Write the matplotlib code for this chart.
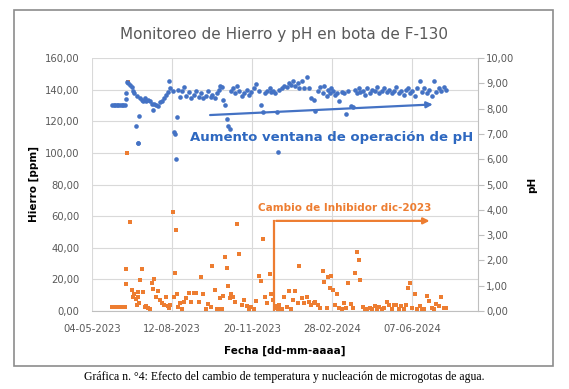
import matplotlib
matplotlib.use("Agg")
import matplotlib.pyplot as plt
import matplotlib.dates as mdates
from matplotlib.ticker import FuncFormatter, MultipleLocator
from matplotlib.patches import Rectangle
import pandas as pd

# sample days counted from 04-05-2023
start_date = "2023-05-04"
sample_days = [25, 27, 29, 31, 33, 35, 37, 39, 41, 42, 43, 44, 45, 47,
               50, 51, 53, 55, 56, 57, 58, 59, 60, 62, 64, 66, 68, 70, 72, 75,
               76, 78, 80, 82, 85, 87, 90, 92, 95, 96, 98, 101, 103, 104, 105,
               106, 108, 110, 113, 115, 118, 121, 124, 127, 130, 133, 136, 139,
               142, 145, 148, 150, 153, 156, 158, 160, 162, 164, 166, 168, 170,
               172, 174, 176, 178, 181, 184, 187, 190, 193, 196, 199, 202, 205,
               208, 211, 213, 216, 219, 222, 224, 226, 228, 231, 232, 234, 237,
               240, 243, 246, 248, 251, 254, 257, 259, 262, 265, 268, 271, 274,
               277, 279, 282, 285, 288, 290, 293, 295, 297, 299, 301, 304, 306,
               309, 312, 315, 317, 320, 323, 326, 329, 331, 333, 335, 338, 341,
               344, 347, 350, 353, 356, 359, 362, 365, 368, 371, 374, 377, 380,
               383, 386, 389, 392, 395, 397, 400, 403, 406, 409, 412, 415, 418,
               421, 424, 427, 430, 433, 436, 439, 442]

ph_values = [8.13, 8.13, 8.13, 8.13, 8.13, 8.13, 8.13, 8.13, 8.13, 8.37, 8.6, 9.05, 9.0, 8.95,
             8.85, 8.7, 8.6, 7.3, 8.5, 6.63, 6.63, 7.7, 8.4, 8.35, 8.3, 8.4, 8.3, 8.35, 8.3, 8.2,
             7.94, 8.2, 8.15, 8.1, 8.25, 8.3, 8.4, 8.55, 8.65, 9.09, 8.8, 8.7, 7.06, 7.0, 6.0,
             7.66, 8.75, 8.45, 8.7, 8.85, 8.5, 8.65, 8.4, 8.55, 8.7, 8.45, 8.6, 8.4,
             8.5, 8.7, 8.45, 8.55, 8.4, 8.6, 8.75, 8.9, 8.85, 8.33, 8.13, 7.6, 7.3,
             7.2, 8.7, 8.8, 8.6, 8.9, 8.7, 8.5, 8.6, 8.75, 8.55, 8.65, 8.8, 8.97,
             8.7, 8.13, 7.86, 8.6, 8.7, 8.8, 8.65, 8.7, 8.6, 7.86, 6.3, 8.75, 8.8,
             8.9, 8.85, 9.0, 8.95, 9.1, 8.9, 9.0, 8.8, 9.1, 8.8, 9.25, 8.8, 8.4,
             8.35, 7.9, 8.7, 8.85, 8.6, 8.9, 8.5, 8.75, 8.6, 8.8, 8.7, 8.55, 8.6,
             8.3, 8.65, 8.6, 7.8, 8.7, 8.1, 8.05, 8.75, 8.6, 8.8, 8.65, 8.7, 8.55,
             8.8, 8.6, 8.75, 8.7, 8.85, 8.6, 8.7, 8.8, 8.65, 8.75, 8.6, 8.7, 8.85,
             8.6, 8.7, 8.55, 8.75, 8.8, 8.6, 8.7, 8.5, 8.8, 9.1, 8.65, 8.8, 8.6,
             8.75, 8.5, 9.1, 8.65, 8.8, 8.7, 8.85, 8.75]

hierro_values = [2.4, 2.4, 2.4, 2.4, 2.4, 2.4, 2.4, 2.4, 2.4, 17, 26.7, 100, 145, 56.5,
                 13, 9, 11, 7.6, 3.8, 9, 12, 5, 19.7, 26.7, 12, 2.5, 3, 2, 1.3, 17.8,
                 14, 20.3, 9, 12.7, 7, 5, 3.8, 9, 3, 2, 4, 62.8, 9, 24, 51.4,
                 11, 2.5, 5, 1.5, 6, 8, 11.4, 5.7, 11.4, 11.4, 5.7, 21.6, 11,
                 1, 4.4, 2.5, 28.6, 13.3, 1, 1, 8, 1, 9.3, 34, 27, 16,
                 8, 11, 9, 5.7, 55, 36, 3.8, 7, 3, 1.5, 2.5, 1.5, 6.3,
                 22, 19, 45.7, 8.9, 5, 23.5, 10.8, 7, 3, 2, 1.5, 4, 1.5,
                 9, 2.5, 12.7, 1, 7, 12.7, 5, 28.6, 8, 5, 9, 6, 4,
                 5, 6, 4, 2, 25, 18.6, 2, 21.6, 14.6, 22.2, 13.3, 3.8, 10.8,
                 2, 1.5, 5, 2, 17.8, 4.4, 2, 24, 37.4, 32.4, 19.7, 2.5, 1.5,
                 1, 2, 1, 3, 1.5, 2.5, 1, 2, 5.7, 3.8, 1.5, 3.5, 4,
                 1, 3, 1.5, 3.5, 14.6, 17.8, 2, 10.8, 1.5, 3, 1, 1.5, 9.5,
                 6.3, 2, 1, 4.4, 3.2, 8.9, 2, 2]

x_tick_days = [0, 100, 200, 300, 400]
x_end_day = 482

t0 = pd.Timestamp(start_date)
dates = [t0 + pd.Timedelta(days=d) for d in sample_days]

blue = "#4472C4"
orange = "#ED7D31"
grey = "#595959"
grid_c = "#d9d9d9"

fig = plt.figure(figsize=(5.69, 3.89), dpi=100)
ax = fig.add_axes([92 / 569, 78 / 389, 386 / 569, 253 / 389])
ax2 = ax.twinx()

# frame of the excel chart
fig.patches.append(Rectangle((14 / 569, 23 / 389), 539 / 569, 356 / 389,
                             transform=fig.transFigure, fill=False,
                             edgecolor="#8c8c8c", lw=1.2))

ax.scatter(dates, hierro_values, marker="s", s=11, color=orange, lw=0, zorder=3)
ax2.scatter(dates, ph_values, marker="o", s=11, color=blue, lw=0, zorder=3)

ax.set_xlim(t0, t0 + pd.Timedelta(days=x_end_day))
ax.set_xticks([t0 + pd.Timedelta(days=d) for d in x_tick_days])
ax.xaxis.set_major_formatter(mdates.DateFormatter("%d-%m-%Y"))
ax.set_ylim(0, 160)
ax.yaxis.set_major_locator(MultipleLocator(20))
ax2.set_ylim(0, 10)
ax2.yaxis.set_major_locator(MultipleLocator(1))

comma = FuncFormatter(lambda v, p: f"{v:.2f}".replace(".", ","))
ax.yaxis.set_major_formatter(comma)
ax2.yaxis.set_major_formatter(comma)

ax.grid(True, color=grid_c, lw=0.8)
ax.set_axisbelow(True)
for s in ["top", "left", "right"]:
    ax.spines[s].set_visible(False)
for s in ["top", "left"]:
    ax2.spines[s].set_visible(False)
ax.spines["bottom"].set_color("#bfbfbf")
ax2.spines["bottom"].set_visible(False)
ax2.spines["right"].set_color("#bfbfbf")

ax.tick_params(axis="y", length=0, pad=9, labelsize=7.2, labelcolor=grey)
ax.tick_params(axis="x", length=0, pad=9, labelsize=7.2, labelcolor=grey)
ax2.tick_params(axis="y", length=4, width=0.8, color="#bfbfbf", pad=2,
                labelsize=7.2, labelcolor=grey)

ax.set_ylabel("Hierro [ppm]", fontsize=7.5, fontweight="bold", labelpad=4)
ax.set_xlabel("Fecha [dd-mm-aaaa]", fontsize=7.5, fontweight="bold", labelpad=9)
ax2.set_ylabel("pH", fontsize=7.5, fontweight="bold", labelpad=9)

fig.text(284 / 569, 1 - 35 / 389, "Monitoreo de Hierro y pH en bota de F-130",
         ha="center", va="center", fontsize=11, color=grey)

# pH annotation
ax2.annotate("", xy=(t0 + pd.Timedelta(days=429), 8.17),
             xytext=(t0 + pd.Timedelta(days=144), 7.74),
             arrowprops=dict(arrowstyle="-|>", color=blue, lw=1.6, mutation_scale=9))
ax.text(t0 + pd.Timedelta(days=122), 110, "Aumento ventana de operación de pH",
        color="#2E68C0", fontsize=9.5, fontweight="bold", va="center", ha="left")

# inhibitor change annotation
ax.plot([t0 + pd.Timedelta(days=227.5)] * 2, [0, 57], color=orange, lw=1.6)
ax.annotate("", xy=(t0 + pd.Timedelta(days=425), 57),
            xytext=(t0 + pd.Timedelta(days=226.5), 57),
            arrowprops=dict(arrowstyle="-|>", color=orange, lw=1.6, mutation_scale=9))
ax.text(t0 + pd.Timedelta(days=207), 65, "Cambio de Inhibidor dic-2023",
        color=orange, fontsize=7.5, fontweight="bold", va="center", ha="left")

fig.text(284 / 569, 1 - 377 / 389,
         "Gráfica n. °4: Efecto del cambio de temperatura y nucleación de microgotas de agua.",
         ha="center", va="center", fontsize=8.5, family="Liberation Serif")

fig.savefig("out.png", dpi=100)
